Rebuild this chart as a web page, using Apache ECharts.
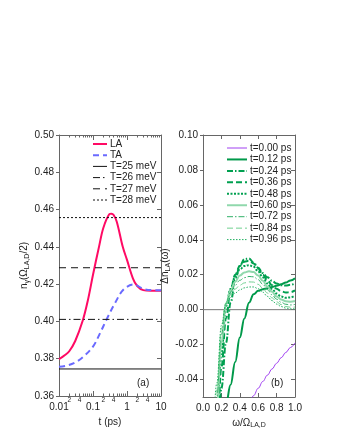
<!DOCTYPE html>
<html><head><meta charset="utf-8">
<script src="https://cdn.jsdelivr.net/npm/echarts@6/dist/echarts.min.js"></script>
<style>html,body{margin:0;padding:0;background:#fff}#c{width:340px;height:440px}</style>
</head><body><div id="c"></div>
<script>
// ---------- Panel (a) data ----------
const tLA = [0.01,0.015,0.02,0.03,0.05,0.07,0.1,0.15,0.2,0.3,0.35,0.4,0.5,0.75,1.0,1.5,2,3,5,10];
const nLA = [0.3797,0.3820,0.3840,0.3895,0.4005,0.4110,0.4250,0.4400,0.4500,0.4575,0.4578,0.4572,0.4535,0.4400,0.4330,0.4230,0.4190,0.4168,0.4165,0.4165];
const tTA = [0.01,0.0166,0.03,0.05,0.1,0.16,0.25,0.44,0.78,1.55,3,5,10];
const nTA = [0.3757,0.3763,0.3780,0.3808,0.3865,0.3936,0.4010,0.4097,0.4170,0.4198,0.4175,0.4168,0.4167];
const Tlevels = [0.3745,0.4011,0.4288,0.4557];
const Tnames = ['T=25 meV','T=26 meV','T=27 meV','T=28 meV'];
const aXMajor = [0.01,0.1,1,10];
const aXMajorLabels = ['0.01','0.1','1','10'];

// ---------- Panel (b) data ----------
const omega = [0.10,0.15,0.20,0.25,0.30,0.35,0.40,0.45,0.50,0.55,0.60,0.65,0.70,0.75,0.80,0.85,0.90,0.95,1.00];
const d000 = [null,null,null,null,null,null,null,null,-0.0560,-0.0492,-0.0450,-0.0411,-0.0375,-0.0340,-0.0307,-0.0275,-0.0245,-0.0217,-0.0190];
const d012 = [null,null,-0.0700,-0.0540,-0.0430,-0.0300,-0.0160,-0.0050,0.0040,0.0088,0.0108,0.0117,0.0123,0.0130,0.0137,0.0145,0.0155,0.0167,0.0180];
const d024 = [-0.150,-0.0900,-0.0450,-0.0190,0.0040,0.0170,0.0250,0.0290,0.0293,0.0270,0.0240,0.0210,0.0185,0.0165,0.0150,0.0140,0.0138,0.0142,0.0150];
const d036 = [-0.130,-0.0750,-0.0330,-0.0050,0.0110,0.0200,0.0250,0.0275,0.0280,0.0265,0.0235,0.0200,0.0168,0.0140,0.0120,0.0105,0.0098,0.0100,0.0110];
const d048 = [-0.120,-0.0630,-0.0250,0.0020,0.0120,0.0190,0.0230,0.0250,0.0255,0.0245,0.0218,0.0185,0.0150,0.0118,0.0092,0.0075,0.0068,0.0070,0.0080];
const d060 = [-0.110,-0.0560,-0.0190,0.0030,0.0110,0.0160,0.0195,0.0213,0.0220,0.0215,0.0195,0.0165,0.0132,0.0102,0.0076,0.0058,0.0048,0.0046,0.0050];
const d072 = [-0.100,-0.0500,-0.0140,0.0040,0.0100,0.0140,0.0168,0.0183,0.0190,0.0188,0.0172,0.0145,0.0115,0.0085,0.0060,0.0042,0.0031,0.0027,0.0030];
const d084 = [-0.090,-0.0460,-0.0110,0.0040,0.0085,0.0118,0.0140,0.0153,0.0159,0.0158,0.0145,0.0122,0.0095,0.0068,0.0045,0.0029,0.0018,0.0014,0.0015];
const d096 = [-0.085,-0.0420,-0.0090,0.0035,0.0070,0.0095,0.0113,0.0125,0.0130,0.0130,0.0120,0.0100,0.0076,0.0052,0.0032,0.0018,0.0009,0.0005,0.0005];
const bNames = ['t=0.00 ps','t=0.12 ps','t=0.24 ps','t=0.36 ps','t=0.48 ps','t=0.60 ps','t=0.72 ps','t=0.84 ps','t=0.96 ps'];
const bYTicks = [-0.04,-0.02,0.00,0.02,0.04,0.06,0.08,0.10];

// ---------- build ----------
const FONT = 'Liberation Sans';
const FRAME = '#666';
const lg = Math.log10;
const majorPos = aXMajor.map(lg);
const minorPos = [], minorLab = [];
for (let d = -2; d < 1; d++) for (let m = 2; m <= 9; m++) { minorPos.push(d + lg(m)); if (m === 2 || m === 4) minorLab.push(d + lg(m)); }
const labMap = {}; aXMajor.forEach((v,i)=>labMap[lg(v).toFixed(3)] = aXMajorLabels[i]);
const minorMap = {}; minorLab.forEach(p=>{ const m = Math.round(Math.pow(10, p - Math.floor(p + 1e-9))); minorMap[p.toFixed(3)] = String(m); });

function pairs(xs, ys, f) { return xs.map((x,i)=>[f ? f(x) : x, ys[i]]); }

const xAxes = [
  {gridIndex:0,type:'value',min:-2,max:1,position:'bottom',
   axisLine:{show:true,onZero:false,lineStyle:{color:FRAME}},
   axisTick:{show:true,inside:true,length:5,customValues:majorPos,lineStyle:{color:FRAME}},
   axisLabel:{customValues:majorPos,formatter:v=>labMap[v.toFixed(3)]||'',fontFamily:FONT,fontSize:10,color:'#222',margin:6},
   splitLine:{show:false},
   name:'t (ps)',nameLocation:'middle',nameGap:18,nameTextStyle:{fontFamily:FONT,fontSize:10,color:'#222'}},
  {gridIndex:0,type:'value',min:-2,max:1,position:'bottom',
   axisLine:{show:false},
   axisTick:{show:true,inside:true,length:2.5,customValues:minorPos,lineStyle:{color:FRAME}},
   axisLabel:{customValues:minorLab,formatter:v=>minorMap[v.toFixed(3)]||'',fontFamily:FONT,fontSize:6.5,color:'#222',margin:1},
   splitLine:{show:false}},
  {gridIndex:0,type:'value',min:-2,max:1,position:'top',
   axisLine:{show:true,onZero:false,lineStyle:{color:FRAME}},
   axisTick:{show:true,inside:true,length:5,customValues:majorPos,lineStyle:{color:FRAME}},
   axisLabel:{show:false},splitLine:{show:false}},
  {gridIndex:0,type:'value',min:-2,max:1,position:'top',
   axisLine:{show:false},
   axisTick:{show:true,inside:true,length:2.5,customValues:minorPos,lineStyle:{color:FRAME}},
   axisLabel:{show:false},splitLine:{show:false}},
  {gridIndex:1,type:'value',min:0,max:1,interval:0.2,position:'bottom',
   axisLine:{show:true,onZero:false,lineStyle:{color:FRAME}},
   axisTick:{show:true,inside:true,length:4,lineStyle:{color:FRAME}},
   axisLabel:{formatter:v=>v.toFixed(1),fontFamily:FONT,fontSize:10,color:'#222',margin:6,showMinLabel:true,showMaxLabel:true},
   splitLine:{show:false},
   name:'ω/Ω{s|LA,D}',nameLocation:'middle',nameGap:17,
   nameTextStyle:{fontFamily:FONT,fontSize:10,color:'#222',rich:{s:{fontFamily:FONT,fontSize:7,color:'#222',verticalAlign:'bottom',padding:[5,0,0,0]}}}},
  {gridIndex:1,type:'value',min:0,max:1,interval:0.2,position:'top',
   axisLine:{show:true,onZero:false,lineStyle:{color:FRAME}},
   axisTick:{show:true,inside:true,length:4,lineStyle:{color:FRAME}},
   axisLabel:{show:false},splitLine:{show:false}}
];

const yAxes = [
  {gridIndex:0,type:'value',min:0.36,max:0.50,interval:0.02,position:'left',
   axisLine:{show:true,onZero:false,lineStyle:{color:FRAME}},
   axisTick:{show:true,inside:false,length:3,lineStyle:{color:FRAME}},
   axisLabel:{formatter:v=>v.toFixed(2),fontFamily:FONT,fontSize:10,color:'#222',margin:5},
   splitLine:{show:false},
   name:'n{s|γ}(Ω{s|LA,D}/2)',nameLocation:'middle',nameGap:26,nameRotate:90,
   nameTextStyle:{fontFamily:FONT,fontSize:10,color:'#222',rich:{s:{fontFamily:FONT,fontSize:7,color:'#222',padding:[5,0,0,0]}}}},
  {gridIndex:0,type:'value',min:0.36,max:0.50,interval:0.02,position:'right',
   axisLine:{show:true,onZero:false,lineStyle:{color:FRAME}},
   axisTick:{show:true,inside:true,length:4,lineStyle:{color:FRAME}},
   axisLabel:{show:false},splitLine:{show:false}},
  {gridIndex:1,type:'value',min:-0.05,max:0.10,position:'left',
   axisLine:{show:true,onZero:false,lineStyle:{color:FRAME}},
   axisTick:{show:true,inside:false,length:3,customValues:bYTicks,lineStyle:{color:FRAME}},
   axisLabel:{customValues:bYTicks,formatter:v=>v.toFixed(2),fontFamily:FONT,fontSize:10,color:'#222',margin:5},
   splitLine:{show:false},
   name:'Δn{s|LA}(ω)',nameLocation:'middle',nameGap:29,nameRotate:90,
   nameTextStyle:{fontFamily:FONT,fontSize:10,color:'#222',rich:{s:{fontFamily:FONT,fontSize:7,color:'#222',padding:[5,0,0,0]}}}},
  {gridIndex:1,type:'value',min:-0.05,max:0.10,position:'right',
   axisLine:{show:true,onZero:false,lineStyle:{color:FRAME}},
   axisTick:{show:true,inside:true,length:4,customValues:bYTicks,lineStyle:{color:FRAME}},
   axisLabel:{show:false},splitLine:{show:false}}
];

const base = {type:'line',symbol:'none',showSymbol:false,animation:false,silent:true};
const series = [];
const aStyles = [
  {color:'#ff0a64',width:2,type:'solid'},
  {color:'#6a6aff',width:2,type:[6,4]},
  {color:'#111',width:1,type:'solid'},
  {color:'#111',width:1,type:[7,3,1.5,3]},
  {color:'#111',width:1,type:[7,5]},
  {color:'#111',width:1,type:[2,2]}
];
const aNames = ['LA','TA'].concat(Tnames);
series.push(Object.assign({},base,{name:'LA',xAxisIndex:0,yAxisIndex:0,smooth:0.35,data:pairs(tLA,nLA,lg),lineStyle:aStyles[0],itemStyle:{color:aStyles[0].color}}));
series.push(Object.assign({},base,{name:'TA',xAxisIndex:0,yAxisIndex:0,smooth:0.35,data:pairs(tTA,nTA,lg),lineStyle:aStyles[1],itemStyle:{color:aStyles[1].color}}));
Tlevels.forEach((v,i)=>{
  series.push(Object.assign({},base,{name:Tnames[i],xAxisIndex:0,yAxisIndex:0,data:[[-2,v],[1,v]],lineStyle:aStyles[i+2],itemStyle:{color:'#111'}}));
});
series.push(Object.assign({},base,{name:'zero',xAxisIndex:4,yAxisIndex:2,data:[[0,0],[1,0]],lineStyle:{color:'#777',width:1}}));
const bData = [d000,d012,d024,d036,d048,d060,d072,d084,d096];
const bStyle = [
  {color:'#a040f0',width:1,type:'solid'},
  {color:'#00994a',width:2,type:'solid'},
  {color:'#00a050',width:2,type:[6,2,1.5,2]},
  {color:'#00a050',width:2,type:[6,3]},
  {color:'#00a050',width:2,type:[2,1.5]},
  {color:'#90d8ac',width:2,type:'solid'},
  {color:'#30b068',width:1,type:[6,2,1.5,2]},
  {color:'#70d090',width:1,type:[6,3]},
  {color:'#20b060',width:1,type:[1.5,1.5]}
];
bData.forEach((d,i)=>{
  series.push(Object.assign({},base,{name:bNames[i],xAxisIndex:4,yAxisIndex:2,smooth:0.4,smoothMonotone:'x',connectNulls:false,
    data:pairs(omega,d),lineStyle:bStyle[i],itemStyle:{color:bStyle[i].color}}));
});

const legendCommon = {orient:'vertical',itemHeight:8,selectedMode:false,
  itemStyle:{opacity:0,borderWidth:0},
  textStyle:{fontFamily:FONT,fontSize:10,color:'#222',lineHeight:10,padding:[0,0,0,-2]}};
const option = {
  backgroundColor:'#fff',
  animation:false,
  grid:[
    {left:59,top:135,width:102,height:261,containLabel:false},
    {left:203,top:135,width:92,height:262,containLabel:false}
  ],
  xAxis:xAxes,
  yAxis:yAxes,
  legend:[
    Object.assign({},legendCommon,{data:aNames.map((n,i)=>({name:n,lineStyle:{width:aStyles[i].width}})),left:87,top:134,itemWidth:14,itemGap:1.2}),
    Object.assign({},legendCommon,{data:bNames.map((n,i)=>({name:n,lineStyle:{width:bStyle[i].width}})),left:221,top:138,itemWidth:20,itemGap:1.45})
  ],
  graphic:[
    {type:'text',left:137,top:378,style:{text:'(a)',font:'10px "Liberation Sans"',fill:'#222'}},
    {type:'text',left:271,top:378,style:{text:'(b)',font:'10px "Liberation Sans"',fill:'#222'}}
  ],
  series:series
};
const chart = echarts.init(document.getElementById('c'),null,{renderer:'canvas'});
chart.setOption(option);
</script>
</body></html>
